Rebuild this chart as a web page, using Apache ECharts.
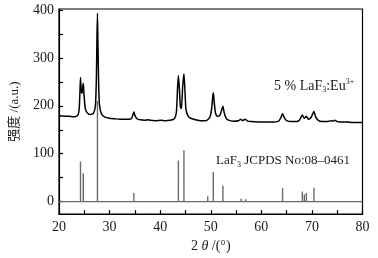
<!DOCTYPE html>
<html>
<head>
<meta charset="utf-8">
<script src="https://cdn.jsdelivr.net/npm/echarts@6/dist/echarts.min.js"></script>
<style>
  html, body { margin: 0; padding: 0; background: #fff; }
  #main { width: 378px; height: 258px; }
</style>
</head>
<body>
<div id="main"></div>
<script>
// 样品 5% LaF3:Eu3+ 的衍射曲线 [2θ, 强度]
var sampleCurve = [
  [20, 179], [21, 178], [22, 178], [22.8, 177], [23.4, 178], [23.8, 182],
  [24.0, 195], [24.15, 232], [24.25, 259], [24.4, 230], [24.55, 226], [24.7, 240],
  [24.8, 247], [24.95, 222], [25.2, 194], [25.6, 185], [26.2, 182], [26.8, 184],
  [27.2, 200], [27.4, 262], [27.5, 340], [27.6, 393], [27.7, 330], [27.85, 240],
  [28.0, 202], [28.4, 183], [29, 177], [30, 174], [31, 173], [32, 172], [33, 172],
  [34, 172], [34.4, 175], [34.65, 183], [34.8, 187], [35.0, 180], [35.4, 173],
  [36, 171], [37, 170], [37.6, 171], [38, 170], [39, 169], [40.2, 170], [41, 169],
  [42, 170], [42.8, 173], [43.2, 186], [43.45, 240], [43.6, 263], [43.8, 236],
  [44.0, 198], [44.2, 194], [44.45, 240], [44.7, 267], [44.9, 232], [45.1, 192],
  [45.5, 179], [46, 174], [47, 171], [48, 169], [49, 169], [49.5, 172], [49.9, 178],
  [50.2, 196], [50.4, 220], [50.5, 227], [50.7, 206], [50.95, 184], [51.3, 178],
  [51.8, 180], [52.1, 189], [52.4, 199], [52.65, 186], [53, 175], [53.5, 170],
  [54.5, 168], [55.5, 169], [55.9, 172], [56.3, 169], [56.8, 172], [57.3, 168],
  [58, 167], [60, 166], [62, 166], [63.4, 168], [63.9, 176], [64.2, 184], [64.5, 176],
  [65, 169], [66, 167], [67, 167], [67.6, 171], [68.1, 181], [68.5, 174], [68.9, 178],
  [69.3, 172], [69.8, 175], [70.15, 183], [70.4, 188], [70.7, 178], [71.2, 170],
  [72, 167], [73, 167], [73.8, 169], [74.1, 168], [74.5, 170], [75, 167], [76, 166],
  [77, 166], [78, 165], [79, 165], [80, 165]
];

// 标准卡片 JCPDS 08-0461 的衍射峰位置和强度
var cardPos = [24.25, 24.8, 27.6, 34.8, 37.8, 40.2, 43.6, 44.7, 49.4, 50.5, 52.4,
  56.0, 56.9, 59.7, 64.2, 68.1, 68.5, 68.9, 70.4, 73.7, 74.2, 77.8];
var cardInt = [84, 59, 210, 18, 4, 4, 86, 107, 11, 62, 33,
  6, 5, 2, 28, 21, 15, 18, 29, 3, 4, 4];

var yTicks = [0, 100, 200, 300, 400];
var yMinorTicks = [0, 50, 100, 150, 200, 250, 300, 350, 400];

// 标准卡片画成竖线
var cardLine = [[20, 0]];
for (var i = 0; i < cardPos.length; i++) {
  cardLine.push([cardPos[i], 0], [cardPos[i], cardInt[i]], [cardPos[i], 0]);
}
cardLine.push([80, 0]);

var serif = "'Liberation Serif', 'Times New Roman', serif";
var textColor = '#1a1a1a';

var myChart = echarts.init(document.getElementById('main'));
var option = {
  backgroundColor: '#fff',
  animation: false,
  grid: {
    left: 57.5, right: 15.5, top: 9, bottom: 42,
    show: true, borderColor: '#000', borderWidth: 1.2
  },
  xAxis: {
    type: 'value',
    min: 20, max: 80, interval: 10,
    name: '{n|2 }{i|θ}{n| /(°)}',
    nameLocation: 'middle',
    nameGap: 21,
    nameTextStyle: {
      rich: {
        n: { fontFamily: serif, fontSize: 14, color: textColor },
        i: { fontFamily: serif, fontSize: 14, fontStyle: 'italic', color: textColor }
      }
    },
    axisLine: { onZero: false, lineStyle: { color: '#000', width: 1.2 } },
    axisTick: { inside: true, length: 4, lineStyle: { color: '#000', width: 1.2 } },
    minorTick: { show: true, splitNumber: 2, length: 4, lineStyle: { color: '#000', width: 1.2 } },
    axisLabel: { margin: 6, fontFamily: serif, fontSize: 14, color: textColor },
    splitLine: { show: false }
  },
  yAxis: {
    type: 'value',
    min: -26, max: 402,
    name: '强度 /(a.u.)',
    nameLocation: 'middle',
    nameRotate: 90,
    nameGap: 38,
    nameTextStyle: {
      fontFamily: "'Liberation Serif', 'Noto Sans CJK SC', serif",
      fontSize: 13, color: textColor
    },
    axisLine: { show: true, onZero: false, lineStyle: { color: '#000', width: 1.2 } },
    axisTick: {
      show: true, inside: true, length: 4,
      customValues: yMinorTicks,
      lineStyle: { color: '#000', width: 1.2 }
    },
    axisLabel: {
      margin: 5, fontFamily: serif, fontSize: 14, color: textColor,
      customValues: yTicks
    },
    splitLine: { show: false }
  },
  graphic: [
    {
      type: 'text', left: 274, top: 78,
      style: {
        text: '{n|5 % LaF}{s|3}{n|:Eu}{p|3+}',
        rich: {
          n: { fontFamily: serif, fontSize: 14, lineHeight: 16, fill: textColor },
          s: { fontFamily: serif, fontSize: 8, lineHeight: 16, verticalAlign: 'bottom', fill: textColor },
          p: { fontFamily: serif, fontSize: 8, lineHeight: 16, verticalAlign: 'top', fill: textColor }
        }
      }
    },
    {
      type: 'text', left: 216, top: 154,
      style: {
        text: '{n|LaF}{s|3}{n| JCPDS No:08\u20130461}',
        rich: {
          n: { fontFamily: serif, fontSize: 13, lineHeight: 16, fill: textColor },
          s: { fontFamily: serif, fontSize: 8, lineHeight: 16, verticalAlign: 'bottom', fill: textColor }
        }
      }
    }
  ],
  series: [
    {
      type: 'line',
      data: cardLine,
      showSymbol: false,
      lineStyle: { color: '#6a6a6a', width: 1.4 },
      z: 2
    },
    {
      type: 'line',
      data: sampleCurve,
      showSymbol: false,
      smooth: 0.2,
      lineStyle: { color: '#000', width: 1.5 },
      z: 3
    }
  ]
};
if (option && typeof option === 'object') {
  myChart.setOption(option, true);
}
</script>
</body>
</html>
